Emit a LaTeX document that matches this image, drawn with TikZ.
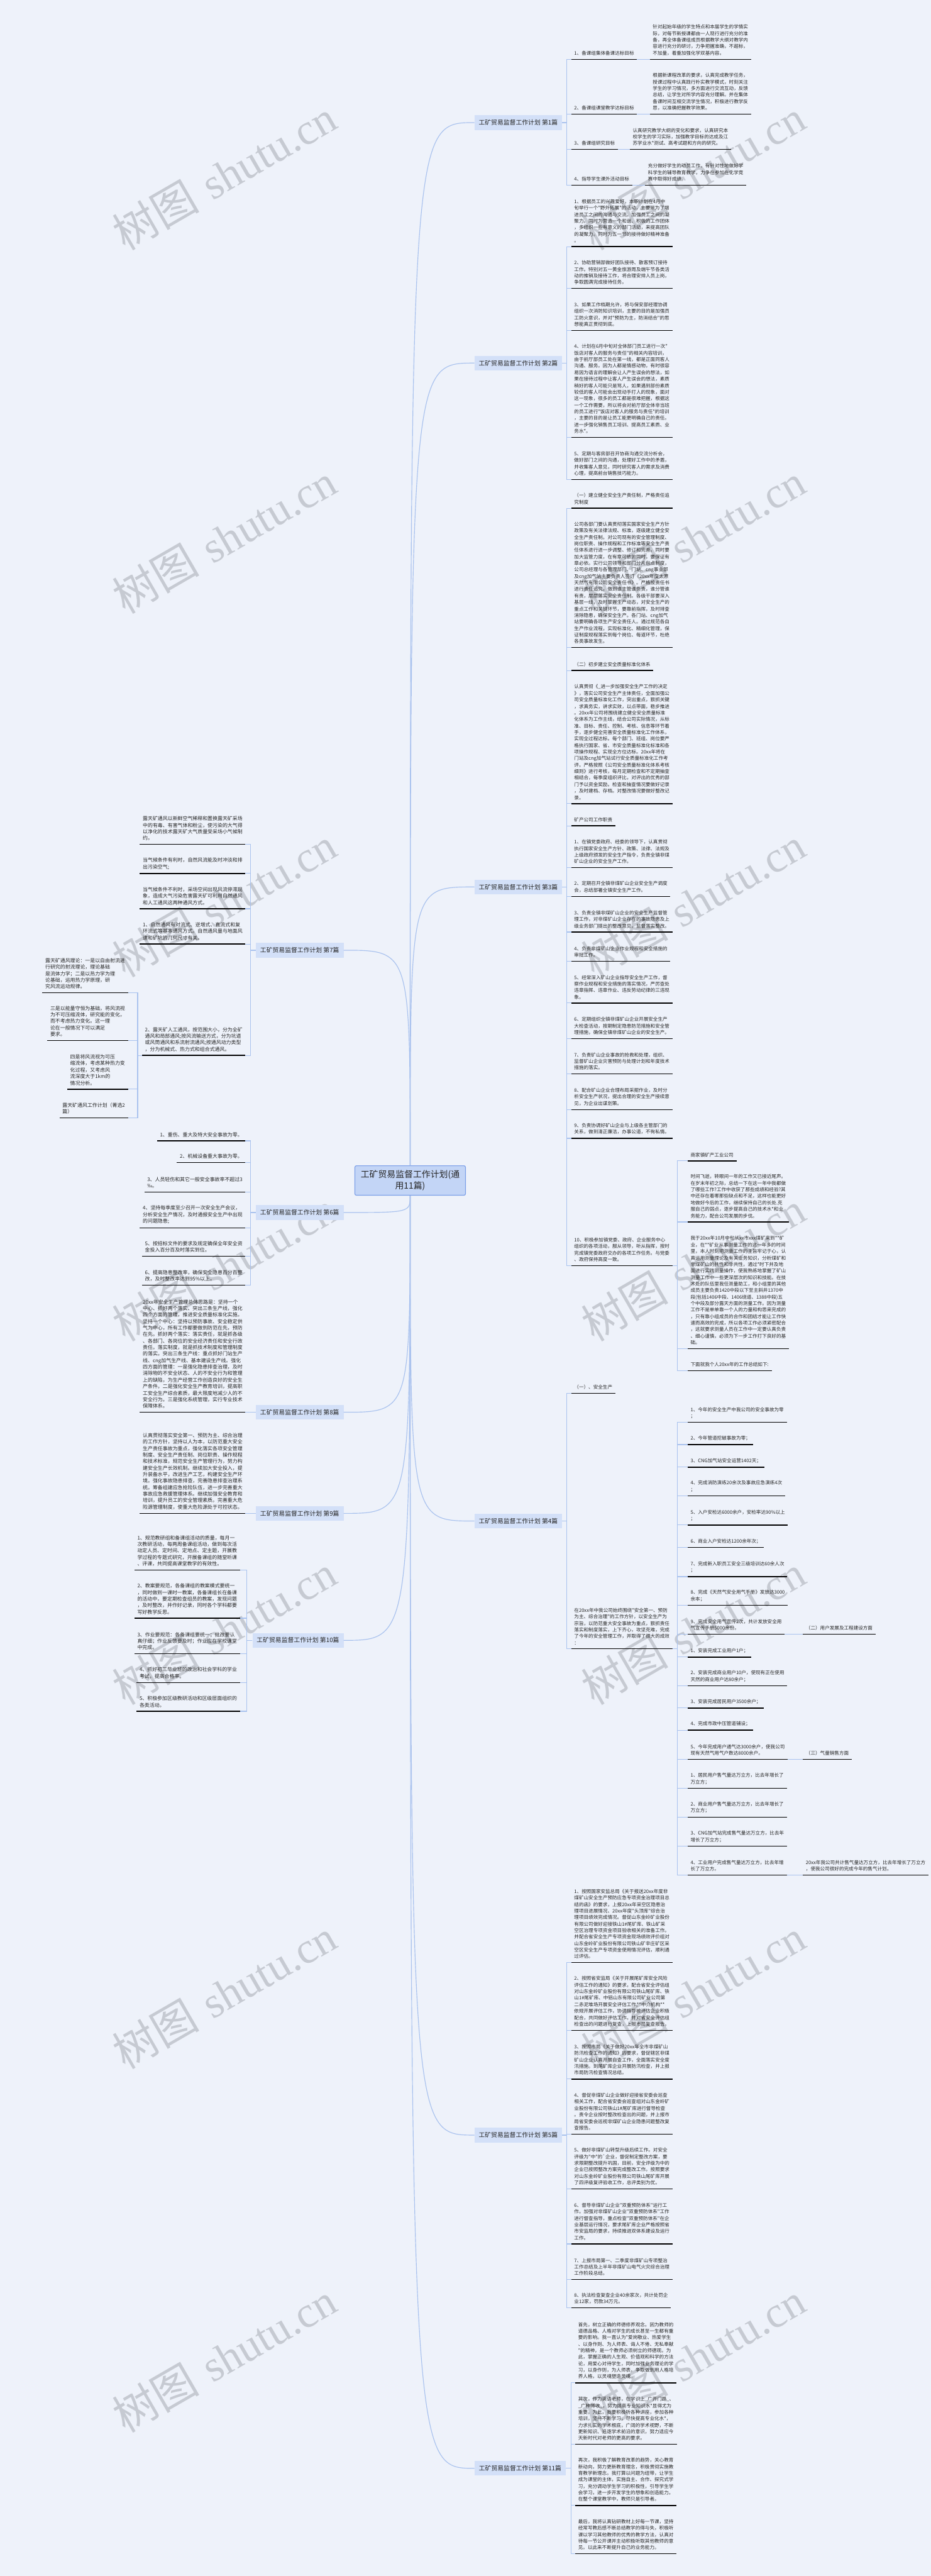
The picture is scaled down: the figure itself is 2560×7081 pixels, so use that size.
\documentclass[tikz,border=0pt]{standalone}
\usepackage{fontspec}
\newfontfamily\cjk[Ligatures=TeXOff]{Noto Sans CJK SC}
\newfontfamily\wmserif{Liberation Serif}
\definecolor{bgc}{HTML}{EEF2FA}
\definecolor{connc}{HTML}{A9C2EE}
\definecolor{labc}{HTML}{D3E0F8}
\definecolor{rootc}{HTML}{C3D5F6}
\definecolor{rootb}{HTML}{7CA0E8}
\definecolor{wmc}{HTML}{C6CAD2}
\definecolor{txtc}{HTML}{262626}
\newcommand\rfont{\cjk\fontsize{13.1}{17.9}\selectfont}
\newcommand\lfont{\cjk\fontsize{13.7}{17.9}\selectfont}
\newcommand\labfont{\cjk\fontsize{17}{20}\selectfont}
\newcommand\rootfont{\cjk\fontsize{24}{32}\selectfont}
\newcommand\wmfont{\fontsize{120}{120}\selectfont}
\newcommand\bq{\symbol{96}}
\tikzset{
 ul/.style={draw=black, line width=2.5pt},
 tnode/.style={align=left, inner xsep=8pt, inner ysep=10.5pt, text=txtc,
   append after command={(\tikzlastnode.south west) edge[ul] (\tikzlastnode.south east)}},
 rt/.style={tnode, font=\rfont, anchor=south west},
 lt/.style={tnode, font=\lfont, anchor=south east},
 conn/.style={draw=connc, line width=2pt},
 lab/.style={fill=labc, font=\labfont, text=txtc, inner xsep=12pt, minimum height=40pt, anchor=east},
 rootnode/.style={fill=rootc, draw=rootb, line width=2pt, rounded corners=4pt, font=\rootfont, align=center, inner xsep=16pt, inner ysep=12pt, text=txtc},
 wm/.style={font=\wmfont, text=wmc, rotate=30, anchor=base west, inner sep=0pt},
}
\begin{document}
\begin{tikzpicture}[x=1pt,y=-1pt]
\useasboundingbox (0,0) rectangle (2560,7081);
\fill[bgc] (0,0) rectangle (2560,7081);
% watermarks
\foreach \k in {0,...,6}{
  \node[wm] (wmr\k) at (1635,{690+1000*\k}) {{\cjk 树图} {\wmserif shutu.cn}};
  \node[wm] (wml\k) at (345,{690+1000*\k}) {{\cjk 树图} {\wmserif shutu.cn}};
}
% root
\node[rootnode] (root) at (1128,3245) {工矿贸易监督工作计划(通\\用11篇)};
% branch labels
\node[lab] (R1) at (1546,337) {工矿贸易监督工作计划 第1篇};
\node[lab] (R2) at (1546,998) {工矿贸易监督工作计划 第2篇};
\node[lab] (R3) at (1546,2438) {工矿贸易监督工作计划 第3篇};
\node[lab] (R4) at (1546,4181) {工矿贸易监督工作计划 第4篇};
\node[lab] (R5) at (1546,5869) {工矿贸易监督工作计划 第5篇};
\node[lab] (R6) at (1556,6785) {工矿贸易监督工作计划 第11篇};
\node[lab] (L7) at (945,2612) {工矿贸易监督工作计划 第7篇};
\node[lab] (L6) at (945,3333) {工矿贸易监督工作计划 第6篇};
\node[lab] (L8) at (945,3882) {工矿贸易监督工作计划 第8篇};
\node[lab] (L9) at (945,4160) {工矿贸易监督工作计划 第9篇};
\node[lab] (L10) at (945,4509) {工矿贸易监督工作计划 第10篇};
% ---------- 第1篇
\node[rt] (A1L) at (1571,163) {1、备课组集体备课达标目标};
\node[rt] (A1D) at (1787,163) {针对起始年级的学生特点和本届学生的学情实\\际，对每节新授课都由一人现行进行充分的准\\备，再全体备课组成员根据教学大纲对教学内\\容进行充分的研讨，力争把握准确，不超标，\\不加量，着重加强化学双基内容。};
\node[rt] (A2L) at (1571,314) {2、备课组课堂教学达标目标};
\node[rt] (A2D) at (1787,314) {根据新课程改革的要求，认真完成教学任务，\\授课过程中认真践行朴实教学模式，时刻关注\\学生的学习情况，多方面进行交流互动，反馈\\总结，让学生对所学内容充分理解。并在集体\\备课时间互相交流学生情况，积极进行教学反\\思，以准确把握教学效果。};
\node[rt] (A3L) at (1571,411) {3、备课组研究目标};
\node[rt] (A3D) at (1732,411) {认真研究教学大纲的变化和要求，认真研究本\\校学生的学习实际，加强教学目标的达成及江\\苏学业水*测试、高考试题和方向的研究。};
\node[rt] (A4L) at (1571,509) {4、指导学生课外活动目标};
\node[rt] (A4D) at (1774,509) {充分做好学生的动员工作，有针对性地做好学\\科学生的辅导教育教学，力争在参加在化学竞\\赛中取得好成绩。};
% ---------- 第2篇
\node[rt] (B1) at (1571,678) {1、根据员工的兴趣爱好，本职计划在4月中\\旬举行一个"野外拓展"的活动，主要是为了增\\进员工之间的沟通与交流。加强员工之间的凝\\聚力。同时为营造一个和谐、积极的工作团体\\，多组织一些有意义的部门活动，来提高团队\\的凝聚力。同时为五一节的接待做好精神准备\\。};
\node[rt] (B2) at (1571,793) {2、协助营销部做好团队接待、散客预订接待\\工作。特别对五一黄金旅游周及端午节各类活\\动的推销及接待工作，将合理安排人员上岗，\\争取圆满完成接待任务。};
\node[rt] (B3) at (1571,908) {3、如果工作档期允许，将与保安部经理协调\\组织一次消防知识培训，主要的目的是加强员\\工防火意识，并对"预防为主，防消结合"的思\\想能真正贯彻到底。};
\node[rt] (B4) at (1571,1202) {4、计划在6月中旬对全体部门员工进行一次"\\饭店对客人的服务与责任"的相关内容培训，\\由于前厅部员工处在第一线，都是正面同客人\\沟通、服务。因为人都是情感动物，有时很容\\易因为语言的理解会让人产生误会的想法，如\\果在接待过程中让客人产生误会的想法，素质\\稍好的客人可能只是骂人，如果遇到部份素质\\较低的客人可能会出现动手打人的现象，面对\\这一现象，很多的员工都是很难把握，根据这\\一个工作需要，所以将会对前厅部全体非当班\\的员工进行"饭店对客人的服务与责任"的培训\\，主要的目的是让员工能更明确自己的责任。\\进一步强化销售员工培训、提高员工素质、业\\务水*。};
\node[rt] (B5) at (1571,1318) {5、定期与客房部召开协商沟通交流分析会，\\做好部门之间的沟通，处理好工作中的矛盾，\\并收集客人意见，同时研究客人的需求及消费\\心理，提高前台销售技巧能力。};
% ---------- 第3篇
\node[rt] (C1) at (1571,1397) {（一）建立健全安全生产责任制，严格责任追\\究制度};
\node[rt] (C2) at (1571,1780) {公司各部门要认真贯彻落实国家安全生产方针\\政策及有关法律法规、标准，逐级建立健全安\\全生产责任制。对公司现有的安全管理制度、\\岗位职责、操作规程和工作标准等安全生产责\\任体系进行进一步调整、修订和完善。同时要\\加大监管力度，在有章可依的同时，要保证有\\章必依。实行公司领导和部门分片包点制度，\\公司总经理与各管理部门、门站、cng事业部\\及cng加气站主要负责人签订《20xx年度太原\\天然气有限公司安全责任书》。严格按责任书\\进行责任追究，做到谁主管谁负责，谁分管谁\\有责，层层落实安全责任制。各级干部要深入\\基层一线，及时掌握生产动态，对安全生产的\\重点工作和关键环节，要靠前指挥，及时排查\\消除隐患，确保安全生产。各门站、cng加气\\站要明确各项生产安全责任人。通过规范各自\\生产作业流程，实现标准化、精细化管理，保\\证制度规程落实到每个岗位、每道环节，杜绝\\各类事故发生。};
\node[rt] (C3) at (1571,1843) {（二）初步建立安全质量标准化体系};
\node[rt] (C4) at (1571,2209) {认真贯彻《\_进一步加强安全生产工作的决定\\》，落实公司安全生产主体责任，全面加强公\\司安全质量标准化工作，突出重点，狠抓关键\\，求真务实，讲求实效，以点带面，稳步推进\\。20xx年公司将围绕建立健全安全质量标准\\化体系为工作主线，结合公司实际情况，从标\\准、目标、责任、控制、考核、信息等环节着\\手，逐步健全完善安全质量标准化工作体系，\\实现全过程达标。每个部门、班组、岗位要严\\格执行国家、省、市安全质量标准化标准和各\\项操作规程、实现全方位达标。20xx年将在\\门站及cng加气站试行安全质量标准化工作考\\评。严格按照《公司安全质量标准化体系考核\\细则》进行考核，每月定期检查和不定期抽查\\相结合，每季度组织评比，对评出的优秀的部\\门予以资金奖励。检查和抽查情况要做好记录\\，及时建档、存档。对整改情况要做好整改记\\录。};
\node[rt] (C5) at (1571,2270) {矿产公司工作职责};
\node[rt] (C6) at (1571,2385) {1、在镇党委政府、经委的领导下，认真贯彻\\执行国家安全生产方针、政策、法律、法规及\\上级政府颁发的安全生产指令，负责全镇非煤\\矿山企业的安全生产工作。};
\node[rt] (C7) at (1571,2464) {2、定期召开全镇非煤矿山企业安全生产调度\\会，总结部署全镇安全生产工作。};
\node[rt] (C8) at (1571,2562) {3、负责全镇非煤矿山企业的安全生产监督管\\理工作，对非煤矿山企业存在的事故隐患及上\\级业务部门提出的整改意见，监督落实整改。};
\node[rt] (C9) at (1571,2642) {4、负责非煤矿山企业作业规程和安全措施的\\审批工作。};
\node[rt] (C10) at (1571,2757) {5、经常深入矿山企业指导安全生产工作，督\\察作业规程和安全措施的落实情况，严厉查处\\违章指挥、违章作业、违反劳动纪律的三违现\\象。};
\node[rt] (C11) at (1571,2855) {6、定期组织全镇非煤矿山企业开展安全生产\\大检查活动，按期制定隐患防范措施和安全管\\理措施，确保全镇非煤矿山企业的安全生产。};
\node[rt] (C12) at (1571,2952) {7、负责矿山企业事故的抢救和处理，组织、\\监督矿山企业灾害预防与处理计划和年度技术\\措施的落实。};
\node[rt] (C13) at (1571,3050) {8、配合矿山企业合理布局采掘作业，及时分\\析安全生产状况，提出合理的安全生产接续意\\见，为企业出谋划策。};
\node[rt] (C14) at (1571,3129) {9、负责协调好矿山企业与上级各主管部门的\\关系，做到清正廉洁，办事公道，不徇私情。};
\node[rt] (C15) at (1571,3479) {10、积极参加镇党委、政府、企业服务中心\\组织的各项活动，服从领导，听从指挥，按时\\完成镇党委政府交办的各项工作任务。与党委\\、政府保持高度一致。};
\node[rt] (D1) at (1891,3191) {商家镇矿产工业公司};
\node[rt] (D2) at (1891,3359) {时间飞逝，转眼间一年的工作又已接近尾声。\\在岁末年初之际，总结一下在这一年中我都做\\了哪些工作?工作中收获了那些成绩和经验?其\\中还存在着哪那些缺点和不足，这样也能更好\\地做好今后的工作，继续保持自己的长处.克\\服自己的弱点，逐步提高自己的技术水*和业\\务能力，配合公司发展的步伐。};
\node[rt] (D3) at (1891,3707) {我于20xx年10月中旬从xx市xxx煤矿来到**矿\\业，在**矿业从事测量工作的这一年多的时间\\里，本人时刻把测量工作的主旨牢记于心，认\\真运用测量理论及有关业务知识，分析煤矿和\\非煤矿山的共性和非共性，通过*时下井及地\\面进行实践测量操作，使我熟练地掌握了矿山\\测量工作中一些更深层次的知识和技能。在技\\术处的队伍里我任测量助工，和小组里的其他\\成员主要负责1420中段以下至主斜井1370中\\段(包括1406中段、1406绕道、1388中段)五\\个中段及部分露天方面的测量工作。因为测量\\工作不是单单靠一个人的力量和构思来完成的\\，只有靠小组成员的合作和团结才能让工作快\\速而高效的完成，所以各项工作必须紧密配合\\，这就要求测量人员在工作中一定要认真负责\\、细心谨慎，必须为下一步工作打下良好的基\\础。};
\node[rt] (D4) at (1891,3768) {下面就我个人20xx年的工作总结如下:};
% ---------- 第4篇
\node[rt] (E1) at (1571,3830) {（一）、安全生产};
\node[rt] (E2) at (1571,4532) {在20xx年中我公司始终围绕"安全第一、预防\\为主、综合治理"的工作方针，以安全生产为\\宗旨，以防范重大安全事故为重点，狠抓责任\\落实和制度落实，上下齐心，攻坚克难，完成\\了今年的安全管理工作，并取得了很大的成效\\：};
\node[rt] (F1) at (1891,3910) {1、今年的安全生产中我公司的安全事故为零\\；};
\node[rt] (F2) at (1891,3971) {2、今年管道挖破事故为零；};
\node[rt] (F3) at (1891,4033) {3、CNG加气站安全运营1402天；};
\node[rt] (F4) at (1891,4112) {4、完成消防演练20余次及事故应急演练4次\\；};
\node[rt] (F5) at (1891,4192) {5、入户安检达6000余户，安检率达90\%以上\\；};
\node[rt] (F6) at (1891,4254) {6、商业入户安检达1200余年次；};
\node[rt] (F7) at (1891,4334) {7、完成新入职员工安全三级培训达60余人次\\；};
\node[rt] (F8) at (1891,4413) {8、完成《天然气安全用气手册》发放达3000\\余本；};
\node[rt] (F9) at (1891,4492) {9、完成安全用气宣传2次，共计发放安全用\\气宣传手册5000余份。};
\node[rt] (F10) at (1891,4555) {1、安装完成工业用户1户；};
\node[rt] (F11) at (1891,4634) {2、安装完成商业用户10户，使现有正在使用\\天然的商业用户达80余户；};
\node[rt] (F12) at (1891,4695) {3、安装完成居民用户3500余户；};
\node[rt] (F13) at (1891,4756) {4、完成市政中压管道铺设；};
\node[rt] (F14) at (1891,4836) {5、今年完成用户通气达3000余户，使我公司\\现有天然气用气户数达8000余户。};
\node[rt] (F15) at (1891,4916) {1、居民用户售气量达万立方，比去年增长了\\万立方；};
\node[rt] (F16) at (1891,4995) {2、商业用户售气量达万立方，比去年增长了\\万立方；};
\node[rt] (F17) at (1891,5075) {3、CNG加气站完成售气量达万立方，比去年\\增长了万立方；};
\node[rt] (F18) at (1891,5154) {4、工业用户完成售气量达万立方，比去年增\\长了万立方。};
\node[rt] (G1) at (2208,4492) {（二）用户发展及工程建设方面};
\node[rt] (G2) at (2208,4836) {（三）气量销售方面};
\node[rt] (G3) at (2208,5154) {20xx年我公司共计售气量达万立方，比去年增长了万立方\\，使我公司很好的完成今年的售气计划。};
% ---------- 第5篇
\node[rt] (H1) at (1571,5395) {1、按照国家安监总局《关于报送20xx年度非\\煤矿山安全生产预防应急专项资金治理项目总\\结的函》的要求，上报20xx年采空区隐患治\\理项目进展情况、20xx年度"头顶库"综合治\\理项目绩效完成情况。督促山东金岭矿业股份\\有限公司做好迎接铁山1\#尾矿库、铁山矿采\\空区治理专项资金项目验收相关的准备工作。\\并配合省安全生产专项资金现场绩效评价组对\\山东金岭矿业股份有限公司铁山矿辛庄矿区采\\空区安全生产专项资金使用情况评估，顺利通\\过评估。};
\node[rt] (H2) at (1571,5581) {2、按照省安监局《关于开展尾矿库安全风险\\评估工作的通知》的要求，配合省安全评估组\\对山东金岭矿业股份有限公司铁山尾矿库、铁\\山1\#尾矿库、中铝山东有限公司矿业公司第\\二赤泥堆场开展安全评估工作,**中介机构**\\依规开展评估工作，协调指导被评估企业积极\\配合，共同做好评估工作。并对省安全评估组\\检查出的问题进行复查，上报市局复查报告。};
\node[rt] (H3) at (1571,5715) {3、按照市局《关于做好20xx年全市非煤矿山\\防汛检查工作的通知》的要求，督促辖区非煤\\矿山企业认真开展自查工作，全面落实安全度\\汛措施。到尾矿库企业开展防汛检查，并上报\\市局防汛检查情况总结。};
\node[rt] (H4) at (1571,5866) {4、督促非煤矿山企业做好迎接省安委会巡查\\相关工作，配合省安委会巡查组对山东金岭矿\\业股份有限公司铁山1\#尾矿库进行督导检查\\。责令企业按时整改检查出的问题，并上报市\\局省安委会巡视非煤矿山企业隐患问题整改复\\查报告。};
\node[rt] (H5) at (1571,6017) {5、做好非煤矿山转型升级后续工作。对安全\\评级为"中"的\bq 企业，督促制定整改方案，要\\求限期整改提升巩固，目前，安全评级为中的\\企业已按照整改方案完成整改工作。按照要求\\对山东金岭矿业股份有限公司铁山尾矿库开展\\了四评级复评验收工作，总评类别为优。};
\node[rt] (H6) at (1571,6168) {6、督导非煤矿山企业"双重预防体系"运行工\\作。加强对非煤矿山企业"双重预防体系"工作\\进行督查指导，重点检查"双重预防体系"在企\\业基层运行情况，要求尾矿库企业严格按照省\\市安监局的要求，持续推进双体系建设及运行\\工作。};
\node[rt] (H7) at (1571,6266) {7、上报市局第一、二季度非煤矿山专项整治\\工作总结及上半年非煤矿山电气火灾综合治理\\工作阶段总结。};
\node[rt] (H8) at (1571,6344) {8、执法检查复查企业40余家次，共计处罚企\\业12家，罚款34万元。};
% ---------- 第11篇
\node[rt] (I1) at (1582,6550) {首先，树立正确的师德修养观念。因为教师的\\道德品格、人格对学生的成长甚至一生都有重\\要的影响。我一直认为"爱岗敬业、热爱学生\\、以身作则、为人师表、诲人不倦、无私奉献\\"的精神，是一个教师必须树立的师德观。为\\此，掌握正确的人生观、价值观和科学的方法\\论，用爱心对待学生，同时加强业务理论的学\\习，以身作则，为人师表，争取做到用人格培\\养人格，以灵魂塑造灵魂。};
\node[rt] (I2) at (1582,6719) {其次，作为英语老师，在学识上\_广开门路\_、\\\_广种博收\_，努力提高专业知识水*显得尤为\\重要。为此，我要积极听各种讲座，参加各种\\培训，坚持不断学习，尽快提高专业化水*，\\力求扎实的学术根底，广阔的学术视野，不断\\更新知识、追逐学术前沿的意识，努力适应今\\天新时代对老师的更高的要求。};
\node[rt] (I3) at (1582,6887) {再次，我积极了解教育改革的趋势，关心教育\\新动向，努力更新教育理念，积极贯彻实施教\\育教学新理念。我打算以问题为纽带，让学生\\成为课堂的主体，实施自主、合作、探究式学\\习，充分调动学生学习的积极性，引导学生学\\会学习，进一步开发学生的想象和创造能力。\\在整个课堂教学中，教师只是引导者。};
\node[rt] (I4) at (1582,7020) {最后，我将认真钻研教材上好每一节课，坚持\\经常写教后感不断总结教学的得与失，积极听\\课以学习其他教师的优秀的教学方法，认真对\\待每一节公开课并主动积极听取其他教师的意\\见。以此来不断提升自己的业务能力。};
% ---------- 第7篇 (left)
\node[lt] (J1) at (675,2321) {露天矿通风以新鲜空气稀释和置换露天矿采场\\中的有毒、有害气体和粉尘，使污染的大气得\\以净化的技术露天矿大气质量受采场小气候制\\约。};
\node[lt] (J2) at (675,2401) {当气候条件有利时，自然风流能及时冲淡和排\\出污染空气;};
\node[lt] (J3) at (675,2498) {当气候条件不利时，采场空间出现风流停滞现\\象，造成大气污染危害露天矿可利用自然通风\\和人工通风这两种通风方式。};
\node[lt] (J4) at (675,2595) {1、自然通风有对流式、逆增式、直流式和复\\环流式等基本通风方式。自然通风量与地面风\\速和矿坑的几何尺寸有关。};
\node[lt] (J5) at (675,2901) {2、露天矿人工通风，按范围大小，分为全矿\\通风和局部通风;按风流输送方式，分为坑道\\或风筒通风和系流射流通风;按通风动力类型\\，分为机械式、热力式和组合式通风。};
\node[lt] (K1) at (352,2729) {露天矿通风理论：一是以自由射流进\\行研究的射流理论，理论基础\\是流体力学；二是以热力学为理\\论基础，运用热力学原理，研\\究风流运动规律。};
\node[lt] (K2) at (352,2860) {三是以能量守恒为基础，将风流视\\为不可压缩流体，研究能的变化，\\而不考虑热力变化。这一理\\论在一般情况下可以满足\\要求。};
\node[lt] (K3) at (352,2994) {四是将风流视为可压\\缩流体，考虑某种热力变\\化过程，又考虑风\\流深度大于1km的\\情况分析。};
\node[lt] (K4) at (352,3073) {露天矿通风工作计划（菁选2\\篇）};
% ---------- 第6篇
\node[lt] (L1) at (675,3136) {1、重伤、重大及特大安全事故为零。};
\node[lt] (L2) at (675,3196) {2、机械设备重大事故为零。};
\node[lt] (L3) at (675,3277) {3、人员轻伤和其它一般安全事故率不超过3\\‰。};
\node[lt] (L4) at (675,3375) {4、坚持每季度至少召开一次安全生产会议，\\分析安全生产情况，及时通报安全生产中出现\\的问题隐患;};
\node[lt] (L5) at (675,3453) {5、按招标文件的要求及规定确保全年安全资\\金投入百分百及时落实到位。};
\node[lt] (L6a) at (675,3533) {6、提高隐患整改率，确保安全隐患百分百整\\改，及时整改率达到95\%以上。};
% ---------- 第8篇, 第9篇
\node[lt] (M1) at (675,3882) {20xx年安全生产管理总体思路是：坚持一个\\中心、抓好两个落实、突出三条生产线，强化\\四个方面的管理，推进安全质量标准化实施。\\坚持一个中心：坚持以预防事故、安全稳定供\\气为中心，所有工作都要做到防范在先，预防\\在先。抓好两个落实：落实责任，就是抓各级\\、各部门、各岗位的安全经济责任和安全行政\\责任。落实制度，就是抓技术制度和管理制度\\的落实。突出三条生产线：重点抓好门站生产\\线、cng加气生产线、基本建设生产线。强化\\四方面的管理：一是强化隐患排查治理，及时\\消除物的不安全状态、人的不安全行为和管理\\上的缺陷，为生产经营工作创造良好的安全生\\产条件。二是强化安全生产教育培训，提高职\\工安全生产综合素质，最大限度地减少人的不\\安全行为。三是强化系统管理，实行专业技术\\保障体系。};
\node[lt] (N1) at (675,4160) {认真贯彻落实安全第一、预防为主、综合治理\\的工作方针，坚持以人为本，以防范重大安全\\生产责任事故为重点，强化落实各项安全管理\\制度、安全生产责任制、岗位职责、操作规程\\和技术标准，规范安全生产管理行为，努力构\\建安全生产长效机制。继续加大安全投入，提\\升装备水平，改进生产工艺，构建安全生产环\\境。强化事故隐患排查，完善隐患排查治理系\\统。筹备组建应急抢险队伍，进一步完善重大\\事故应急救援管理体系。继续加强安全教育和\\培训，提升员工的安全管理素质。完善重大危\\险源管理制度，使重大危险源处于可控状态。};
% ---------- 第10篇
\node[lt] (O1) at (660,4316) {1、规范教研组和备课组活动的质量，每月一\\次教研活动，每两周备课组活动，做到每次活\\动定人员、定时间、定地点、定主题，开展教\\学过程的专题式研究，开展备课组的随堂听课\\、评课，共同提高课堂教学的有效性。};
\node[lt] (O2) at (660,4448) {2、教案要规范，各备课组的教案模式要统一\\，同时做到一课时一教案，各备课组长在备课\\的活动中，要定期检查组员的教案，发现问题\\，及时整改，并作好记录，同时各个学科都要\\写好教学反思。};
\node[lt] (O3) at (660,4546) {3、作业要规范：各备课组要统一；批改要认\\真仔细；作业反馈要及时；作业应在学校课堂\\中完成。};
\node[lt] (O4) at (660,4625) {4、抓好初三毕业班的政治和社会学科的学业\\考试，提高合格率。};
\node[lt] (O5) at (660,4704) {5、积极参加区级教研活动和区级层面组织的\\各类活动。};
% ---------- connectors: root to branches
\foreach \b in {R1,R2,R3} \draw[conn] (root.north) .. controls (root.north |- \b.west) .. (\b.west);
\draw[conn] (root.north) .. controls (root.north |- L7.east) .. (L7.east);
\foreach \b in {R4,R5,R6} \draw[conn] (root.south) .. controls (root.south |- \b.west) .. (\b.west);
\foreach \b in {L6,L8,L9,L10} \draw[conn] (root.south) .. controls (root.south |- \b.east) .. (\b.east);
% right branches
\foreach \c in {A1L,A2L,A3L,A4L} \draw[conn] (R1.east) -- ++(13,0) |- (\c.south west);
\foreach \a/\b in {A1L/A1D,A2L/A2D,A3L/A3D,A4L/A4D} \draw[conn] (\a.south east) -- (\b.south west);
\foreach \c in {B1,B2,B3,B4,B5} \draw[conn] (R2.east) -- ++(13,0) |- (\c.south west);
\foreach \c in {C1,C2,C3,C4,C5,C6,C7,C8,C9,C10,C11,C12,C13,C14,C15} \draw[conn] (R3.east) -- ++(13,0) |- (\c.south west);
\foreach \c in {D1,D2,D3,D4} \draw[conn] (C15.south east) -- ++(13,0) |- (\c.south west);
\foreach \c in {E1,E2} \draw[conn] (R4.east) -- ++(13,0) |- (\c.south west);
\foreach \c in {F1,F2,F3,F4,F5,F6,F7,F8,F9,F10,F11,F12,F13,F14,F15,F16,F17,F18} \draw[conn] (E2.south east) -- ++(13,0) |- (\c.south west);
\foreach \a/\b in {F9/G1,F14/G2,F18/G3} \draw[conn] (\a.south east) -- (\b.south west);
\foreach \c in {H1,H2,H3,H4,H5,H6,H7,H8} \draw[conn] (R5.east) -- ++(13,0) |- (\c.south west);
\foreach \c in {I1,I2,I3,I4} \draw[conn] (R6.east) -- ++(14,0) |- (\c.south west);
% left branches
\foreach \c in {J1,J2,J3,J4,J5} \draw[conn] (L7.west) -- ++(-14,0) |- (\c.south east);
\foreach \c in {K1,K2,K3,K4} \draw[conn] (J5.south west) -- ++(-12,0) |- (\c.south east);
\foreach \c in {L1,L2,L3,L4,L5,L6a} \draw[conn] (L6.west) -- ++(-14,0) |- (\c.south east);
\draw[conn] (L8.west) -- (M1.south east);
\draw[conn] (L9.west) -- (N1.south east);
\foreach \c in {O1,O2,O3,O4,O5} \draw[conn] (L10.west) -- ++(-16,0) |- (\c.south east);
\end{tikzpicture}
\end{document}
